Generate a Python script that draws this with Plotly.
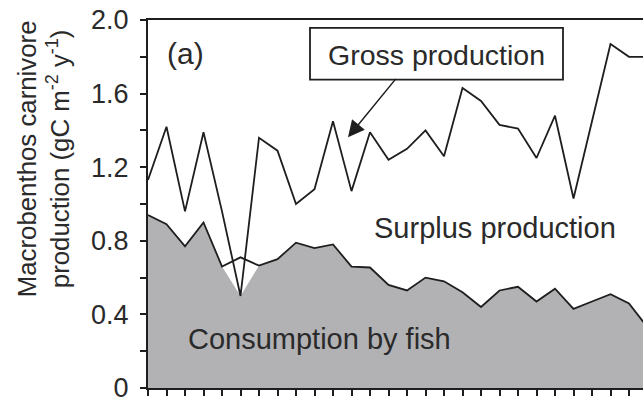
import numpy as np
import plotly.graph_objects as go

# Annual series (gC m-2 y-1)
year_index = [0, 1, 2, 3, 4, 5, 6, 7, 8, 9, 10, 11, 12, 13,
              14, 15, 16, 17, 18, 19, 20, 21, 22, 23, 24, 25, 26, 27]
gross_production = [1.13, 1.42, 0.96, 1.39, 0.96, 0.50, 1.36, 1.29, 1.00, 1.08,
                    1.45, 1.07, 1.39, 1.24, 1.30, 1.40, 1.26, 1.63, 1.56, 1.43,
                    1.41, 1.25, 1.48, 1.03, 1.45, 1.87, 1.80, 1.80]
fish_consumption = [0.94, 0.89, 0.77, 0.90, 0.66, 0.71, 0.665, 0.70, 0.79, 0.76,
                    0.78, 0.66, 0.655, 0.56, 0.53, 0.60, 0.58, 0.52, 0.44, 0.53,
                    0.55, 0.47, 0.54, 0.43, 0.47, 0.51, 0.46, 0.33]

y_tick_vals = [0, 0.4, 0.8, 1.2, 1.6, 2.0]
y_tick_text = ["0", "0.4", "0.8", "1.2", "1.6", "2.0"]

FONT = "Arial, Liberation Sans, Helvetica, sans-serif"
INK = "#1e1e1e"
TEXT = "#2a2a2a"
FILL = "#b2b2b5"

W, H = 643, 403
ML, MR, MT, MB = 148, 0, 20, 13
PW, PH = W - ML - MR, H - MT - MB


def px(x):
    return (x - ML) / PW


def py(y):
    return (H - MB - y) / PH


# gray area is bounded by whichever of the two curves is lower
shaded = np.minimum(np.array(gross_production), np.array(fish_consumption))

fig = go.Figure()
fig.add_trace(go.Scatter(
    x=year_index, y=shaded, mode="lines", line=dict(width=0),
    fill="tozeroy", fillcolor=FILL, hoverinfo="skip", showlegend=False))
fig.add_trace(go.Scatter(
    x=year_index, y=fish_consumption, mode="lines",
    line=dict(color=INK, width=1.8), showlegend=False))
fig.add_trace(go.Scatter(
    x=year_index, y=gross_production, mode="lines",
    line=dict(color=INK, width=1.8), showlegend=False))

fig.update_xaxes(
    range=[0, PW / 18.5], showgrid=False, zeroline=False,
    showline=True, linecolor=INK, linewidth=2, mirror=True,
    ticks="outside", ticklen=6, tickwidth=1.5, tickcolor=INK,
    tick0=0, dtick=1, showticklabels=False)
fig.update_yaxes(
    range=[0, 2.0], showgrid=False, zeroline=False,
    showline=True, linecolor=INK, linewidth=2, mirror=False,
    ticks="outside", ticklen=6, tickwidth=1.5, tickcolor=INK,
    tickvals=y_tick_vals, ticktext=y_tick_text,
    tickfont=dict(family=FONT, size=27, color=TEXT),
    ticklabelstandoff=6, ticklabeloverflow="allow",
    minor=dict(dtick=0.2, tick0=0, ticks="outside", ticklen=6,
               tickwidth=1.5, tickcolor=INK))

annotations = [
    dict(text="(a)", x=px(185), y=py(54), font=dict(size=30)),
    dict(text="Gross production", x=px(436), y=py(55), font=dict(size=28.5)),
    dict(text="Surplus production", x=px(495), y=py(229), font=dict(size=29)),
    dict(text="Consumption by fish", x=px(319), y=py(341), font=dict(size=29)),
    dict(text="Macrobenthos carnivore<br>production (gC m<sup>-2</sup> y<sup>-1</sup>)",
         x=px(44), y=py(160), textangle=-90, font=dict(size=25.8)),
]
for a in annotations:
    a.update(xref="paper", yref="paper", showarrow=False,
             xanchor="center", yanchor="middle")
    a["font"].update(family=FONT, color=TEXT)

# arrow from the label box to the gross production curve
annotations.append(dict(
    xref="paper", yref="paper", x=px(348), y=py(138), text="",
    showarrow=True, axref="pixel", ayref="pixel", ax=49, ay=-60,
    arrowhead=2, arrowsize=2.2, arrowwidth=1.5, arrowcolor=INK))

fig.update_layout(
    width=W, height=H,
    margin=dict(l=ML, r=MR, t=MT, b=MB, pad=0),
    paper_bgcolor="white", plot_bgcolor="white",
    annotations=annotations,
    shapes=[dict(type="rect", xref="paper", yref="paper",
                 x0=px(310), x1=px(563), y0=py(80), y1=py(28),
                 line=dict(color=INK, width=1.8), fillcolor="rgba(0,0,0,0)")],
)

fig.write_html("out.html")
